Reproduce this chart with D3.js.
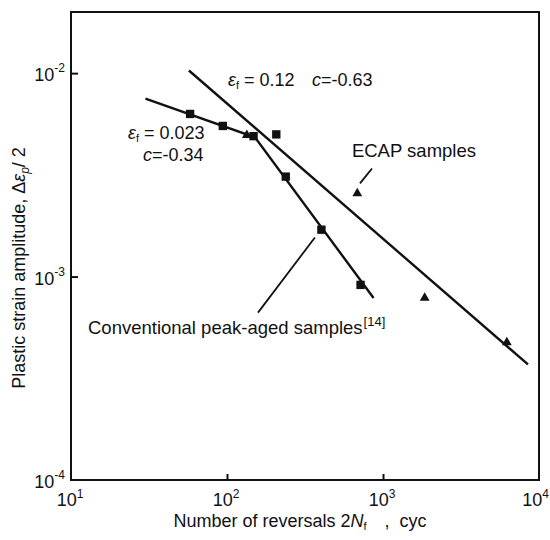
<!DOCTYPE html>
<html>
<head>
<meta charset="utf-8">
<script src="https://cdn.jsdelivr.net/npm/d3@7"></script>
<style>
  body { margin: 0; background: #fff; }
  text { font-family: "Liberation Sans", Arial, sans-serif; fill: #111; }
</style>
</head>
<body>
<script>
// conventional peak-aged samples (squares)
const convN = [58, 94, 148, 207, 238, 403, 718];
const convAmp = [0.0063, 0.0055, 0.0049, 0.0050, 0.0031, 0.0017, 0.00091];
// ECAP samples (triangles)
const ecapN = [134, 684, 1850, 6220];
const ecapAmp = [0.00495, 0.00256, 0.000785, 0.000475];
// fitted lines
const convFitN = [30, 151, 870];
const convFitAmp = [0.0075, 0.00484, 0.000785];
const ecapFitN = [57, 8500];
const ecapFitAmp = [0.0103, 0.00037];
// ticks
const xTicks = [10, 100, 1000, 10000];
const xTickExp = ['1', '2', '3', '4'];
const yTicks = [1e-4, 1e-3, 1e-2];
const yTickExp = ['-4', '-3', '-2'];

const width = 550, height = 540;
const plotL = 71, plotR = 539, plotT = 12, plotB = 480;

const x = d3.scaleLog().domain([10, 1e4]).range([plotL, plotR]);
const y = d3.scaleLog().domain([1e-4, Math.pow(10, -1.6995)]).range([plotB, plotT]);

const svg = d3.select('body').append('svg')
    .attr('width', width).attr('height', height);

// frame
svg.append('rect')
    .attr('x', plotL).attr('y', plotT)
    .attr('width', plotR - plotL).attr('height', plotB - plotT)
    .attr('fill', 'none').attr('stroke', '#111').attr('stroke-width', 2);

// inward ticks
svg.append('g')
    .attr('transform', `translate(0,${plotB})`)
    .call(d3.axisBottom(x).tickValues([100, 1000]).tickSize(-6).tickFormat(''))
    .call(g => g.select('.domain').remove())
    .call(g => g.selectAll('line').attr('stroke', '#111').attr('stroke-width', 2));
svg.append('g')
    .attr('transform', `translate(${plotL},0)`)
    .call(d3.axisLeft(y).tickValues([1e-3, 1e-2]).tickSize(-7).tickFormat(''))
    .call(g => g.select('.domain').remove())
    .call(g => g.selectAll('line').attr('stroke', '#111').attr('stroke-width', 2));

// tick labels with superscript exponents
xTicks.forEach((v, i) => {
    const last = i === xTicks.length - 1;
    const t = svg.append('text')
        .attr('x', last ? width - 1 : x(v) - 1).attr('y', 506)
        .attr('text-anchor', last ? 'end' : 'middle').attr('font-size', 18);
    t.append('tspan').text('10');
    t.append('tspan').attr('dy', -8).attr('font-size', 12).text(xTickExp[i]);
});
yTicks.forEach((v, i) => {
    const t = svg.append('text')
        .attr('x', 65).attr('y', y(v) + 8)
        .attr('text-anchor', 'end').attr('font-size', 18);
    t.append('tspan').text('10');
    t.append('tspan').attr('dy', -9).attr('font-size', 12).text(yTickExp[i]);
});

// axis titles
const xt = svg.append('text')
    .attr('x', 300).attr('y', 527)
    .attr('text-anchor', 'middle').attr('font-size', 18);
xt.append('tspan').text('Number of reversals 2');
xt.append('tspan').attr('font-style', 'italic').text('N');
xt.append('tspan').attr('font-size', 11).attr('dy', 3).text('f');
xt.append('tspan').attr('dy', -3).attr('dx', 18).text(',');
xt.append('tspan').attr('dx', 10).text('cyc');

const yt = svg.append('text')
    .attr('transform', 'translate(25,268) rotate(-90)')
    .attr('text-anchor', 'middle').attr('font-size', 18);
yt.append('tspan').text('Plastic strain amplitude, Δ');
yt.append('tspan').attr('font-style', 'italic').text('ε');
yt.append('tspan').attr('font-style', 'italic').attr('font-size', 12).attr('dy', 4).text('p');
yt.append('tspan').attr('dy', -4).text('/ 2');

// fitted lines
const line = d3.line().x(d => x(d[0])).y(d => y(d[1]));
svg.append('path')
    .attr('d', line(d3.zip(convFitN, convFitAmp)))
    .attr('fill', 'none').attr('stroke', '#111').attr('stroke-width', 2.4);
svg.append('path')
    .attr('d', line(d3.zip(ecapFitN, ecapFitAmp)))
    .attr('fill', 'none').attr('stroke', '#111').attr('stroke-width', 2.4);

// points
svg.append('g').selectAll('path')
    .data(d3.zip(convN, convAmp)).join('path')
    .attr('transform', d => `translate(${x(d[0])},${y(d[1])})`)
    .attr('d', d3.symbol(d3.symbolSquare, 70))
    .attr('fill', '#111');
svg.append('g').selectAll('path')
    .data(d3.zip(ecapN, ecapAmp)).join('path')
    .attr('transform', d => `translate(${x(d[0])},${y(d[1])})`)
    .attr('d', d3.symbol(d3.symbolTriangle, 42))
    .attr('fill', '#111');

// annotations (anchored in data units)
function epsLabel(n, a, value) {
    const t = svg.append('text')
        .attr('x', x(n)).attr('y', y(a)).attr('font-size', 18);
    t.append('tspan').attr('font-style', 'italic').text('ε');
    t.append('tspan').attr('font-size', 11).attr('dy', 3).text('f');
    t.append('tspan').attr('dy', -3).text(' = ' + value);
}
function cLabel(n, a, value) {
    const t = svg.append('text')
        .attr('x', x(n)).attr('y', y(a)).attr('font-size', 18);
    t.append('tspan').attr('font-style', 'italic').text('c');
    t.append('tspan').text('=' + value);
}
epsLabel(101.5, 0.00863, '0.12');
cLabel(351, 0.00863, '-0.63');
epsLabel(23.2, 0.00473, '0.023');
cLabel(28.9, 0.00368, '-0.34');

svg.append('text')
    .attr('x', x(632)).attr('y', y(0.00386))
    .attr('font-size', 18.5).text('ECAP samples');
const ct = svg.append('text')
    .attr('x', x(12.85)).attr('y', y(0.000524)).attr('font-size', 18.5);
ct.append('tspan').text('Conventional peak-aged samples');
ct.append('tspan').attr('font-size', 13).attr('dy', -8).attr('dx', 1).text('[14]');

// leader lines
const leaders = [
    [[850, 0.0034], [712, 0.00287]],
    [[366, 0.001556], [158, 0.000665]]
];
svg.append('g').selectAll('path')
    .data(leaders).join('path')
    .attr('d', line)
    .attr('fill', 'none').attr('stroke', '#111').attr('stroke-width', 1.8);
</script>
</body>
</html>
